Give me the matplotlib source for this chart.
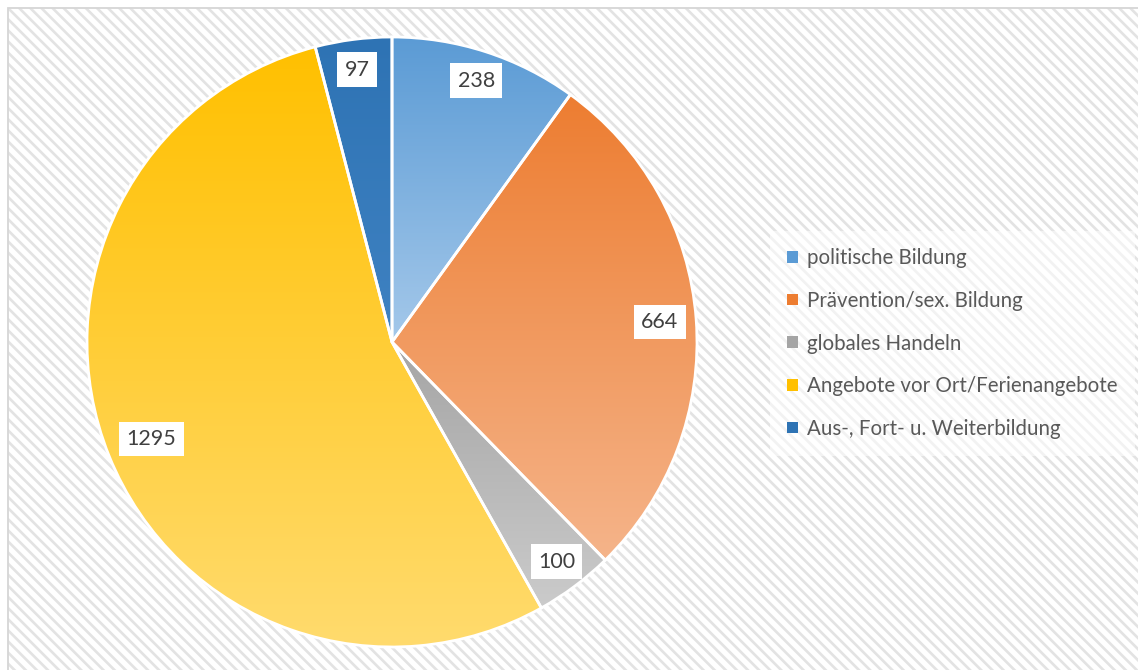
import numpy as np
import matplotlib
matplotlib.use('Agg')
import matplotlib.pyplot as plt
from matplotlib.patches import Rectangle, Patch
from matplotlib.colors import to_rgb

categories = ['politische Bildung', 'Prävention/sex. Bildung', 'globales Handeln',
              'Angebote vor Ort/Ferienangebote', 'Aus-, Fort- u. Weiterbildung']
values = [238, 664, 100, 1295, 97]
top_colors = ['#5B9BD5', '#ED7D31', '#A5A5A5', '#FFC000', '#2E73B4']
bottom_colors = ['#A4C8EA', '#F5B48A', '#CBCBCB', '#FFDB6E', '#3F82C2']
label_radius = [0.90, 0.88, 0.90, 0.85, 0.90]

plt.rcParams['font.family'] = ['Lato', 'DejaVu Sans']
plt.rcParams['hatch.linewidth'] = 1.9

W, H = 1138, 670
fig = plt.figure(figsize=(W / 100, H / 100), dpi=100)

# hatched chart-area background with border
bg = Rectangle((8 / W, -0.01), 1.0, (H - 8) / H + 0.01, transform=fig.transFigure,
               facecolor='white', edgecolor='#E3E3E3', hatch='\\\\\\', lw=0, zorder=-10)
fig.patches.append(bg)
border = Rectangle((8 / W, -0.01), 1.0, (H - 8) / H + 0.01, transform=fig.transFigure,
                   fill=False, edgecolor='#D6D6D6', lw=1.3, zorder=-9)
fig.patches.append(border)

R, cx, cy = 305, 392, 342
ax = fig.add_axes([(cx - R) / W, (H - cy - R) / H, 2 * R / W, 2 * R / H])
ax.axis('off')

wedges, _ = ax.pie(values, startangle=90, counterclock=False, radius=1,
                   wedgeprops=dict(lw=2.0, edgecolor='white'))

n = 256
t = np.linspace(0, 1, n)[:, None]
for w, c0, c1 in zip(wedges, top_colors, bottom_colors):
    v = w.get_path().vertices
    xmin, xmax = v[:, 0].min(), v[:, 0].max()
    ymin, ymax = v[:, 1].min(), v[:, 1].max()
    a, b = np.array(to_rgb(c0)), np.array(to_rgb(c1))
    img = (a[None, :] * (1 - t) + b[None, :] * t)[:, None, :]
    im = ax.imshow(img, extent=(xmin, xmax, ymin, ymax), origin='upper',
                   aspect='auto', interpolation='bilinear', zorder=1)
    im.set_clip_path(w)
    w.set_facecolor('none')
    w.set_zorder(2)

for w, val, r in zip(wedges, values, label_radius):
    th = np.deg2rad((w.theta1 + w.theta2) / 2)
    ax.text(r * np.cos(th), r * np.sin(th), f'{val}', ha='center', va='center',
            fontsize=15.5, color='#404040', zorder=5,
            bbox=dict(boxstyle='square,pad=0.34', fc='white', ec='none'))

ax.set_xlim(-1, 1)
ax.set_ylim(-1, 1)
ax.set_aspect('equal')

handles = [Patch(facecolor=c, edgecolor='none') for c in top_colors]
leg = fig.legend(handles, categories, loc='upper left',
                 bbox_to_anchor=(776 / W, 1 - 237 / H), frameon=True,
                 fontsize=14.8, labelcolor='#595959', handlelength=0.5, handleheight=0.5,
                 handletextpad=0.45, labelspacing=1.1, borderpad=0.55, borderaxespad=0)
leg.get_frame().set_facecolor('white')
leg.get_frame().set_alpha(0.55)
leg.get_frame().set_edgecolor('none')
leg.get_frame().set_boxstyle('square')

fig.savefig('out.png', dpi=100)
